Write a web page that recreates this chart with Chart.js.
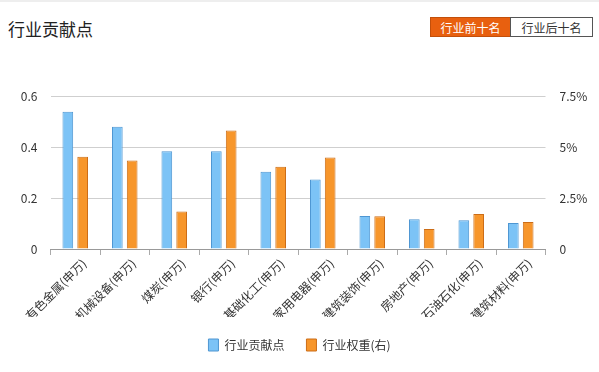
<!DOCTYPE html>
<html>
<head>
<meta charset="utf-8">
<script src="https://cdn.jsdelivr.net/npm/chart.js@4.4.1/dist/chart.umd.min.js"></script>
<style>
    body { margin: 0; background: #fff; font-family: "Noto Sans CJK SC", "Noto Sans", sans-serif; }
    #wrap { position: relative; width: 599px; height: 372px; overflow: hidden; }
    #topline { position: absolute; left: 0; top: 0; width: 599px; height: 2px; background: #eee; }
    #title { position: absolute; left: 8px; top: 16px; font-size: 17px; color: #222; }
    .btn { position: absolute; top: 17px; height: 20px; line-height: 20px; font-size: 12px; text-align: center; box-sizing: border-box; }
    #btn1 { left: 430px; width: 81px; background: #e8600f; color: #fff; border: 1px solid #c24f0a; }
    #btn2 { left: 510px; width: 83px; background: #fff; color: #333; border: 1px solid #555; }
    canvas { position: absolute; left: 0; top: 0; }
</style>
</head>
<body>
<div id="wrap">
    <div id="topline"></div>
    <div id="title">行业贡献点</div>
    <div class="btn" id="btn1">行业前十名</div>
    <div class="btn" id="btn2">行业后十名</div>
    <canvas id="industryChart" width="599" height="372"></canvas>
</div>
<script>
const categories = ['有色金属(申万)', '机械设备(申万)', '煤炭(申万)', '银行(申万)', '基础化工(申万)',
    '家用电器(申万)', '建筑装饰(申万)', '房地产(申万)', '石油石化(申万)', '建筑材料(申万)'];
const contribution = [0.538, 0.479, 0.383, 0.383, 0.303, 0.273, 0.129, 0.117, 0.113, 0.102];
// poids en %
const weight = [4.52, 4.34, 1.84, 5.81, 4.03, 4.49, 1.61, 0.98, 1.71, 1.32];
const leftTicks = [0, 0.2, 0.4, 0.6];
const rightTicks = [0, 2.5, 5, 7.5];

const font = { family: '"Noto Sans CJK SC", "Noto Sans", sans-serif', size: 12 };

const ctx = document.getElementById('industryChart').getContext('2d');
const chart = new Chart(ctx, {
    type: 'bar',
    data: {
        labels: categories,
        datasets: [{
            label: '行业贡献点',
            data: contribution,
            backgroundColor: '#7cc3f6',
            borderColor: '#4e96d2',
            borderWidth: 1,
            yAxisID: 'y'
        }, {
            label: '行业权重(右)',
            data: weight,
            backgroundColor: '#f7962b',
            borderColor: '#cc6d17',
            borderWidth: 1,
            yAxisID: 'y1'
        }]
    },
    options: {
        responsive: false,
        animation: false,
        categoryPercentage: 0.6,
        barPercentage: 0.72,
        layout: { padding: { top: 96, left: 0, right: 0, bottom: 11 } },
        plugins: {
            tooltip: { enabled: false },
            legend: {
                position: 'bottom',
                labels: {
                    font: font,
                    color: '#333',
                    boxWidth: 10,
                    boxHeight: 12,
                    padding: 22
                }
            }
        },
        scales: {
            x: {
                offset: true,
                border: { color: '#999' },
                grid: { offset: true, drawOnChartArea: false, tickLength: 6, color: '#aaa' },
                ticks: { font: font, color: '#333', maxRotation: 45, minRotation: 45, padding: 1, labelOffset: 9, autoSkip: false },
                afterFit: (scale) => { scale.height = 68; }
            },
            y: {
                position: 'left',
                min: 0,
                max: 0.6,
                afterBuildTicks: (scale) => { scale.ticks = leftTicks.map(v => ({ value: v })); },
                border: { display: false },
                grid: { color: '#cfcfcf', drawTicks: false },
                ticks: {
                    font: font,
                    color: '#333',
                    padding: 13,
                    callback: (v) => v === 0 ? '0' : v.toFixed(1)
                },
                afterFit: (scale) => { scale.width = 50.5; }
            },
            y1: {
                position: 'right',
                min: 0,
                max: 7.5,
                afterBuildTicks: (scale) => { scale.ticks = rightTicks.map(v => ({ value: v })); },
                border: { display: false },
                grid: { drawOnChartArea: false, drawTicks: false },
                ticks: {
                    font: font,
                    color: '#333',
                    padding: 14,
                    callback: (v) => v === 0 ? '0' : v + '%'
                },
                afterFit: (scale) => { scale.width = 53.5; }
            }
        }
    }
});
</script>
</body>
</html>
